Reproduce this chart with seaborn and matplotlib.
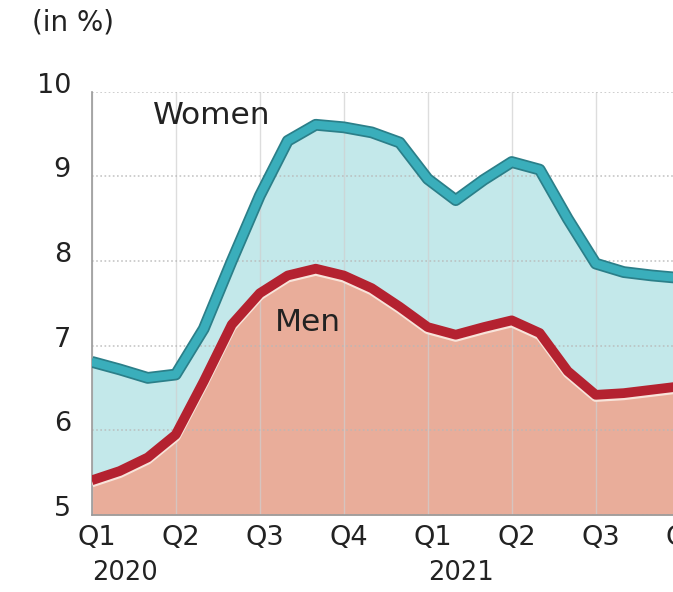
import matplotlib
matplotlib.use('Agg')
import matplotlib.pyplot as plt
import matplotlib.patheffects as pe
from matplotlib.transforms import ScaledTranslation
import pandas as pd
import seaborn as sns

# monthly readings, Jan 2020 .. Oct 2021 (month index from Jan 2020)
months = list(range(22))
women = [6.81, 6.72, 6.62, 6.66, 7.20, 8.00, 8.77, 9.42, 9.61, 9.58, 9.52, 9.40,
         8.97, 8.72, 8.96, 9.17, 9.08, 8.50, 7.97, 7.87, 7.83, 7.80]
men = [5.41, 5.52, 5.68, 5.95, 6.58, 7.25, 7.62, 7.83, 7.91, 7.83, 7.68, 7.46,
       7.22, 7.13, 7.22, 7.30, 7.15, 6.70, 6.42, 6.44, 6.48, 6.52]
tick_months = [0, 3, 6, 9, 12, 15, 18, 21]
tick_labels = ['Q1', 'Q2', 'Q3', 'Q4', 'Q1', 'Q2', 'Q3', 'Q4']
years = ['2020', '2021']
year_months = [0, 12]

df = pd.DataFrame({'month': months, 'Women': women, 'Men': men})

sns.set_style('white')
plt.rcParams['font.family'] = ['DejaVu Sans']

fig = plt.figure(figsize=(6.73, 5.92), dpi=100)
ax = fig.add_axes([0.1363, 0.130, 0.8945, 0.715])

teal = '#3aaebb'
teal_dark = '#2b7f89'
red = '#b42230'
txt = '#222222'

ax.fill_between(df.month, 5, df.Women, color='#c3e8ea', lw=0, zorder=1)
ax.fill_between(df.month, 5, df.Men, color='#e9ad9a', lw=0, zorder=1.1)

sns.lineplot(data=df, x='month', y='Women', color=teal, lw=6, ax=ax, zorder=3,
             path_effects=[pe.Stroke(linewidth=8.5, foreground=teal_dark), pe.Normal()],
             solid_capstyle='butt', solid_joinstyle='round')
sns.lineplot(data=df, x='month', y='Men', color=red, lw=7, ax=ax, zorder=3,
             path_effects=[pe.SimpleLineShadow(offset=(0, -1.6), shadow_color='#f8e4da', alpha=1, rho=1),
                           pe.Normal()],
             solid_capstyle='butt', solid_joinstyle='round')

ax.set_xlim(0, 21.5)
ax.set_ylim(5, 10)
ax.set_xlabel('')
ax.set_ylabel('')

ax.set_xticks(tick_months)
ax.set_xticklabels(tick_labels)
ax.set_yticks([5, 6, 7, 8, 9, 10])

ax.set_axisbelow('line')
ax.grid(axis='y', color='#b8b8b8', ls=(0, (1, 1.5)), lw=1.2, alpha=0.8)
ax.grid(axis='x', color='#cfcfcf', ls='-', lw=1, alpha=0.7)

for s in ['top', 'right']:
    ax.spines[s].set_visible(False)
for s in ['left', 'bottom']:
    ax.spines[s].set_color('#9a9a9a')
    ax.spines[s].set_linewidth(1.2)

ax.tick_params(axis='x', length=4, color='#9a9a9a', pad=3, labelsize=19.5, labelcolor=txt)
ax.tick_params(axis='y', length=5, color='#9a9a9a', pad=10, labelsize=19.5, labelcolor=txt)

for lab in ax.get_xticklabels():
    lab.set_transform(lab.get_transform() + ScaledTranslation(5 / 100, 0, fig.dpi_scale_trans))
for lab in ax.get_yticklabels():
    lab.set_transform(lab.get_transform() + ScaledTranslation(0, 9 / 100, fig.dpi_scale_trans))

for yr, m in zip(years, year_months):
    ax.annotate(yr, xy=(m, 0), xycoords=('data', 'axes fraction'), xytext=(0, -42),
                textcoords='offset points', ha='left', va='center', fontsize=18.5, color=txt)

ax.text(4.3, 9.72, 'Women', ha='center', va='center', fontsize=22.5, color=txt, zorder=5)
ax.text(7.73, 7.28, 'Men', ha='center', va='center', fontsize=22.5, color=txt, zorder=5)

fig.text(32 / 673, 1 - 22 / 592, '(in %)', ha='left', va='center', fontsize=20, color=txt)

fig.savefig('out.png', dpi=100)
